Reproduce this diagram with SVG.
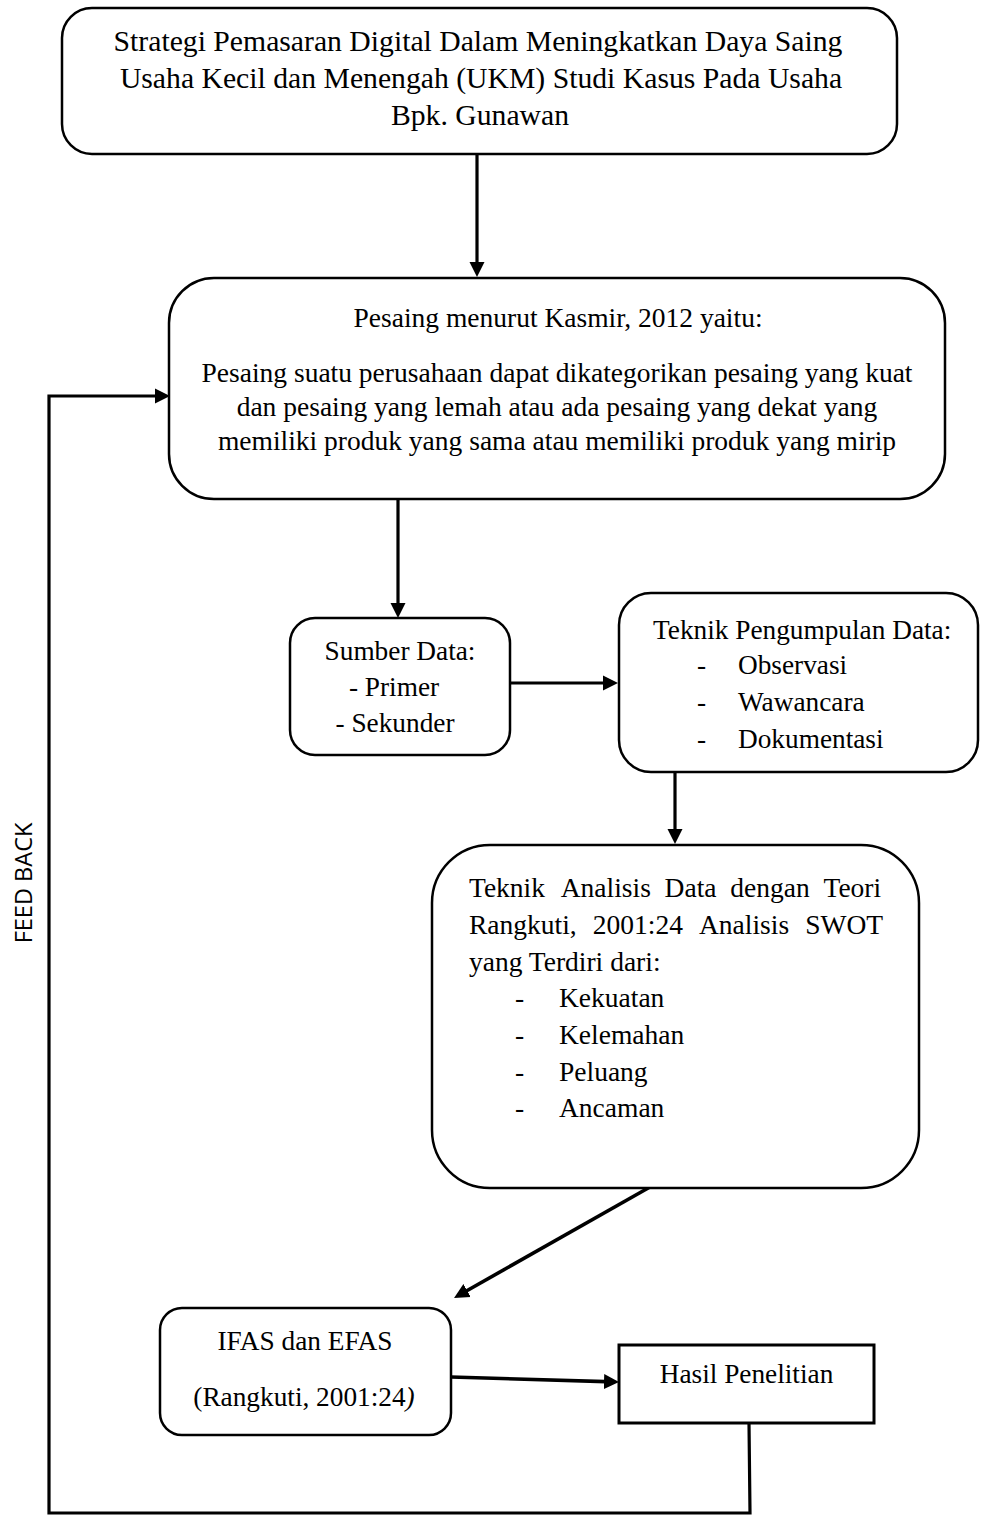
<svg xmlns="http://www.w3.org/2000/svg" width="981" height="1515" viewBox="0 0 981 1515">
<style>
.box{fill:#fff;stroke:#000;stroke-width:2.5}
.t{font-family:"Liberation Serif","Times New Roman",serif;font-size:27.3px;fill:#000}
.c{text-anchor:middle}
.con{fill:none;stroke:#000;stroke-width:3.2}
.fb{font-family:"Open Sans","Noto Sans",sans-serif;font-size:23.5px;fill:#000}
</style>
<defs>
<marker id="ah" markerUnits="userSpaceOnUse" markerWidth="16" markerHeight="16" viewBox="0 0 16 16" refX="10" refY="8" orient="auto">
<path d="M0,0.5 L15,8 L0,15.5 z" fill="#000"/>
</marker>
</defs>
<rect width="981" height="1515" fill="#fff"/>

<g id="connectors">
<line class="con" x1="477" y1="154" x2="477" y2="272" marker-end="url(#ah)"/>
<line class="con" x1="398" y1="499" x2="398" y2="613" marker-end="url(#ah)"/>
<line class="con" x1="510" y1="683" x2="613" y2="683" marker-end="url(#ah)"/>
<line class="con" x1="675" y1="772" x2="675" y2="839" marker-end="url(#ah)"/>
<line class="con" x1="650" y1="1187" x2="458.4" y2="1295.5" marker-end="url(#ah)" style="stroke-width:3.6"/>
<line class="con" x1="451" y1="1377" x2="614" y2="1381.9" marker-end="url(#ah)" style="stroke-width:3.6"/>
<path class="con" d="M749,1423 L750,1513 L49,1513 L49,396 L165,396" marker-end="url(#ah)"/>
</g>

<g id="feedback-label">
<text class="fb" transform="translate(32,883) rotate(-90)" text-anchor="middle">FEED BACK</text>
</g>

<g id="judul">
<rect class="box" x="62" y="8" width="835" height="146" rx="30"/>
<text class="t c" style="font-size:29.7px" x="478" y="51">Strategi Pemasaran Digital Dalam Meningkatkan Daya Saing</text>
<text class="t c" style="font-size:29.7px" x="481" y="88">Usaha Kecil dan Menengah (UKM) Studi Kasus Pada Usaha</text>
<text class="t c" style="font-size:29.7px" x="480" y="125">Bpk. Gunawan</text>
</g>

<g id="pesaing">
<rect class="box" x="169" y="278" width="776" height="221" rx="45"/>
<text class="t c" style="font-size:27.5px" x="558" y="327">Pesaing menurut Kasmir, 2012 yaitu:</text>
<text class="t c" style="font-size:27.5px" x="557" y="382">Pesaing suatu perusahaan dapat dikategorikan pesaing yang kuat</text>
<text class="t c" style="font-size:27.5px" x="557" y="416">dan pesaing yang lemah atau ada pesaing yang dekat yang</text>
<text class="t c" style="font-size:27.5px" x="557" y="450">memiliki produk yang sama atau memiliki produk yang mirip</text>
</g>

<g id="sumber-data">
<rect class="box" x="290" y="618" width="220" height="137" rx="25"/>
<text class="t c" x="400" y="660">Sumber Data:</text>
<text class="t c" x="394" y="696">- Primer</text>
<text class="t c" x="395" y="732">- Sekunder</text>
</g>

<g id="teknik-pengumpulan">
<rect class="box" x="619" y="593" width="359" height="179" rx="32"/>
<text class="t" x="653" y="639">Teknik Pengumpulan Data:</text>
<text class="t" x="697" y="674">-</text>
<text class="t" x="738" y="674">Observasi</text>
<text class="t" x="697" y="711">-</text>
<text class="t" x="738" y="711">Wawancara</text>
<text class="t" x="697" y="748">-</text>
<text class="t" x="738" y="748">Dokumentasi</text>
</g>

<g id="teknik-analisis">
<rect class="box" x="432" y="845" width="487" height="343" rx="58"/>
<text class="t" style="font-size:27.5px" y="897"><tspan x="469">Teknik</tspan><tspan x="560.7">Analisis</tspan><tspan x="664.6">Data</tspan><tspan x="730.3">dengan</tspan><tspan x="823.5">Teori</tspan></text>
<text class="t" style="font-size:27.5px" y="934"><tspan x="469">Rangkuti,</tspan><tspan x="592.8">2001:24</tspan><tspan x="699">Analisis</tspan><tspan x="805.2">SWOT</tspan></text>
<text class="t" style="font-size:27.5px" x="469" y="971">yang Terdiri dari:</text>
<text class="t" style="font-size:27.5px" x="515" y="1007">-</text>
<text class="t" style="font-size:27.5px" x="559" y="1007">Kekuatan</text>
<text class="t" style="font-size:27.5px" x="515" y="1044">-</text>
<text class="t" style="font-size:27.5px" x="559" y="1044">Kelemahan</text>
<text class="t" style="font-size:27.5px" x="515" y="1081">-</text>
<text class="t" style="font-size:27.5px" x="559" y="1081">Peluang</text>
<text class="t" style="font-size:27.5px" x="515" y="1117">-</text>
<text class="t" style="font-size:27.5px" x="559" y="1117">Ancaman</text>
</g>

<g id="ifas-efas">
<rect class="box" x="160" y="1308" width="291" height="127" rx="22"/>
<text class="t c" x="305" y="1350">IFAS dan EFAS</text>
<text class="t c" x="304" y="1406">(Rangkuti, 2001:24<tspan font-style="italic">)</tspan></text>
</g>

<g id="hasil-penelitian">
<rect class="box" x="619" y="1345" width="255" height="78" style="stroke-width:3"/>
<text class="t c" x="746.5" y="1383">Hasil Penelitian</text>
</g>
</svg>
